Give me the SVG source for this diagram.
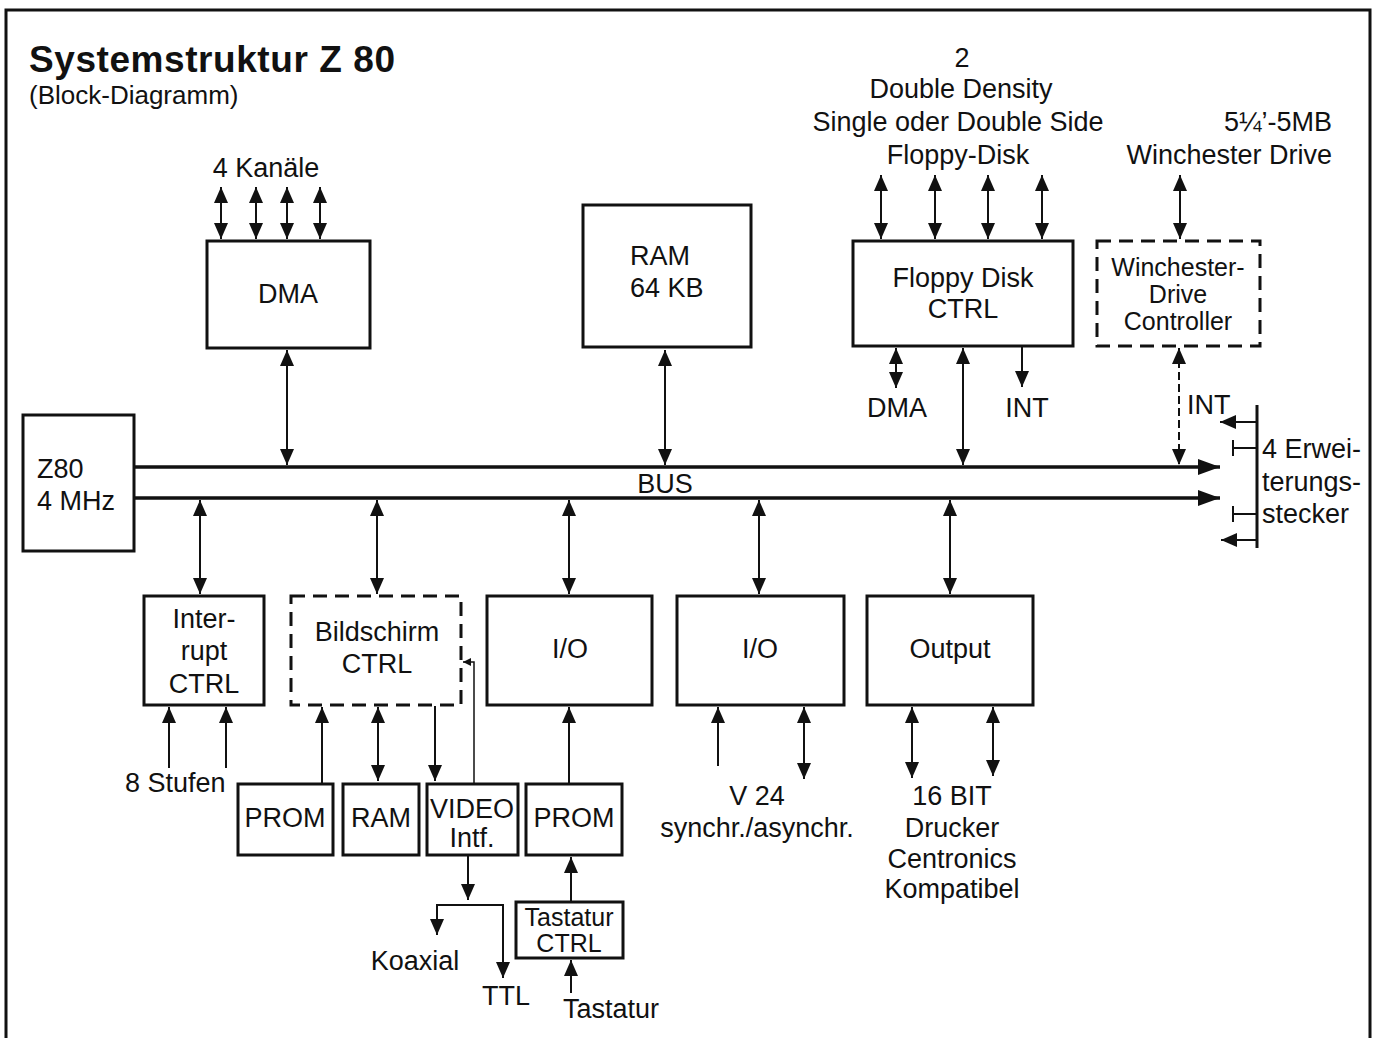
<svg xmlns="http://www.w3.org/2000/svg" width="1378" height="1038" viewBox="0 0 1378 1038">
<style>
.box{fill:none;stroke:#111;stroke-width:3}
.dbox{fill:none;stroke:#111;stroke-width:3;stroke-dasharray:14 8}
.t{font-family:"Liberation Sans",Arial,Helvetica,sans-serif;font-size:27px;fill:#111}
.ttl{font-size:37px;font-weight:bold}
.sub{font-size:26px}
.sm{font-size:25px}
.c{text-anchor:middle}
.e{text-anchor:end}
.ln{stroke:#111;stroke-width:2;fill:none}
.dl{stroke:#111;stroke-width:2;fill:none;stroke-dasharray:8 4}
.bus{stroke:#111;stroke-width:3.5;fill:none}
.a1{marker-end:url(#ah)}
.a2{marker-start:url(#ah);marker-end:url(#ah)}
</style>
<defs>
<marker id="ah" markerUnits="userSpaceOnUse" markerWidth="16" markerHeight="14" viewBox="0 0 16 14" refX="16" refY="7" orient="auto-start-reverse"><path d="M0,0L16,7L0,14z" fill="#111"/></marker>
<marker id="bh" markerUnits="userSpaceOnUse" markerWidth="22" markerHeight="16" viewBox="0 0 22 16" refX="22" refY="8" orient="auto"><path d="M0,0L22,8L0,16z" fill="#111"/></marker>
<marker id="sh" markerUnits="userSpaceOnUse" markerWidth="8" markerHeight="8" viewBox="0 0 8 8" refX="8" refY="4" orient="auto"><path d="M0,0L8,4L0,8z" fill="#111"/></marker>
</defs>
<rect width="1378" height="1038" fill="#fff"/>
<path d="M6,1038V10H1370V1038" fill="none" stroke="#111" stroke-width="3"/>

<g id="title">
<text class="t ttl" x="29" y="72" textLength="366" lengthAdjust="spacing">Systemstruktur Z 80</text>
<text class="t sub" x="29" y="104">(Block-Diagramm)</text>
</g>

<g id="dma">
<rect class="box" x="207" y="241" width="163" height="107"/>
<text class="t c" x="288" y="303">DMA</text>
<text class="t c" x="266" y="177">4 Kanäle</text>
</g>

<g id="ram64">
<rect class="box" x="583" y="205" width="168" height="142"/>
<text class="t" x="630" y="265">RAM</text>
<text class="t" x="630" y="297">64 KB</text>
</g>

<g id="floppy">
<rect class="box" x="853" y="241" width="220" height="105"/>
<text class="t c" x="963" y="287">Floppy Disk</text>
<text class="t c" x="963" y="318">CTRL</text>
<text class="t c" x="962" y="67">2</text>
<text class="t c" x="961" y="98">Double Density</text>
<text class="t c" x="958" y="131">Single oder Double Side</text>
<text class="t c" x="958" y="164">Floppy-Disk</text>
<text class="t c" x="897" y="417">DMA</text>
<text class="t c" x="1027" y="417">INT</text>
</g>

<g id="winchester">
<rect class="dbox" x="1097" y="241" width="163" height="105"/>
<text class="t c sm" x="1178" y="276">Winchester-</text>
<text class="t c sm" x="1178" y="303">Drive</text>
<text class="t c sm" x="1178" y="330">Controller</text>
<text class="t e" x="1332" y="131">5¼’-5MB</text>
<text class="t e" x="1332" y="164">Winchester Drive</text>
<text class="t" x="1187" y="414">INT</text>
</g>

<g id="z80">
<rect class="box" x="23" y="415" width="111" height="136"/>
<text class="t" x="37" y="478">Z80</text>
<text class="t" x="37" y="510">4 MHz</text>
</g>

<g id="bus">
<path class="bus" d="M134,467H1220" marker-end="url(#bh)"/>
<path class="bus" d="M134,498H1220" marker-end="url(#bh)"/>
<text class="t c" x="665" y="493">BUS</text>
</g>

<g id="erweiterung">
<path d="M1257,405V548" stroke="#111" stroke-width="3" fill="none"/>
<path class="ln" d="M1233,448H1257M1233,440V456M1233,514H1257M1233,506V522"/>
<text class="t" x="1262" y="458">4 Erwei-</text>
<text class="t" x="1262" y="491">terungs-</text>
<text class="t" x="1262" y="523">stecker</text>
</g>

<g id="interrupt">
<rect class="box" x="144" y="596" width="120" height="109"/>
<text class="t c" x="204" y="628">Inter-</text>
<text class="t c" x="204" y="660">rupt</text>
<text class="t c" x="204" y="693">CTRL</text>
<text class="t" x="125" y="792">8 Stufen</text>
</g>

<g id="bildschirm">
<rect class="dbox" x="291" y="596" width="170" height="109"/>
<text class="t c" x="377" y="641">Bildschirm</text>
<text class="t c" x="377" y="673">CTRL</text>
</g>

<g id="io1">
<rect class="box" x="487" y="596" width="165" height="109"/>
<text class="t c" x="570" y="658">I/O</text>
</g>

<g id="io2">
<rect class="box" x="677" y="596" width="167" height="109"/>
<text class="t c" x="760" y="658">I/O</text>
<text class="t c" x="757" y="805">V 24</text>
<text class="t c" x="757" y="837">synchr./asynchr.</text>
</g>

<g id="output">
<rect class="box" x="867" y="596" width="166" height="109"/>
<text class="t c" x="950" y="658">Output</text>
<text class="t c" x="952" y="805">16 BIT</text>
<text class="t c" x="952" y="837">Drucker</text>
<text class="t c" x="952" y="868">Centronics</text>
<text class="t c" x="952" y="898">Kompatibel</text>
</g>

<g id="prom1">
<rect class="box" x="238" y="784" width="95" height="71"/>
<text class="t c" x="285" y="827">PROM</text>
</g>
<g id="ram2">
<rect class="box" x="343" y="784" width="76" height="71"/>
<text class="t c" x="381" y="827">RAM</text>
</g>
<g id="video">
<rect class="box" x="427" y="784" width="91" height="71"/>
<text class="t c" x="472" y="818">VIDEO</text>
<text class="t c" x="472" y="847">Intf.</text>
<text class="t c" x="415" y="970">Koaxial</text>
<text class="t" x="482" y="1005">TTL</text>
</g>
<g id="prom2">
<rect class="box" x="526" y="784" width="96" height="71"/>
<text class="t c" x="574" y="827">PROM</text>
</g>
<g id="tastatur">
<rect class="box" x="516" y="902" width="107" height="56"/>
<text class="t c sm" x="569" y="926">Tastatur</text>
<text class="t c sm" x="569" y="952">CTRL</text>
<text class="t" x="563" y="1018">Tastatur</text>
</g>

<g id="connectors">
<path class="ln a2" d="M221,187V239"/>
<path class="ln a2" d="M256,187V239"/>
<path class="ln a2" d="M287,187V239"/>
<path class="ln a2" d="M320,187V239"/>
<path class="ln a2" d="M287,350V465"/>
<path class="ln a2" d="M665,350V465"/>
<path class="ln a2" d="M881,175V239"/>
<path class="ln a2" d="M935,175V239"/>
<path class="ln a2" d="M988,175V239"/>
<path class="ln a2" d="M1042,175V239"/>
<path class="ln a2" d="M1180,175V239"/>
<path class="ln a2" d="M896,348V388"/>
<path class="ln a2" d="M963,348V465"/>
<path class="ln a1" d="M1022,347V387"/>
<path class="dl a2" d="M1179,348V465"/>
<path class="ln a1" d="M1257,422H1220"/>
<path class="ln a1" d="M1257,540H1221"/>
<path class="ln a2" d="M200,500V594"/>
<path class="ln a2" d="M377,500V594"/>
<path class="ln a2" d="M569,500V594"/>
<path class="ln a2" d="M759,500V594"/>
<path class="ln a2" d="M950,500V594"/>
<path class="ln a1" d="M169,768V707"/>
<path class="ln a1" d="M226,768V707"/>
<path class="ln a1" d="M322,784V707"/>
<path class="ln a2" d="M378,707V781"/>
<path class="ln a1" d="M435,706V781"/>
<path d="M474,784V662H463" stroke="#111" stroke-width="1.5" fill="none" marker-end="url(#sh)"/>
<path class="ln a1" d="M569,784V707"/>
<path class="ln a1" d="M468,856V900"/>
<path class="ln a1" d="M470,905H437V935"/>
<path class="ln a1" d="M470,905H503V978"/>
<path class="ln a1" d="M571,902V857"/>
<path class="ln a1" d="M571,993V960"/>
<path class="ln a1" d="M718,766V707"/>
<path class="ln a2" d="M804,707V779"/>
<path class="ln a2" d="M912,707V778"/>
<path class="ln a2" d="M993,707V776"/>
</g>
</svg>
